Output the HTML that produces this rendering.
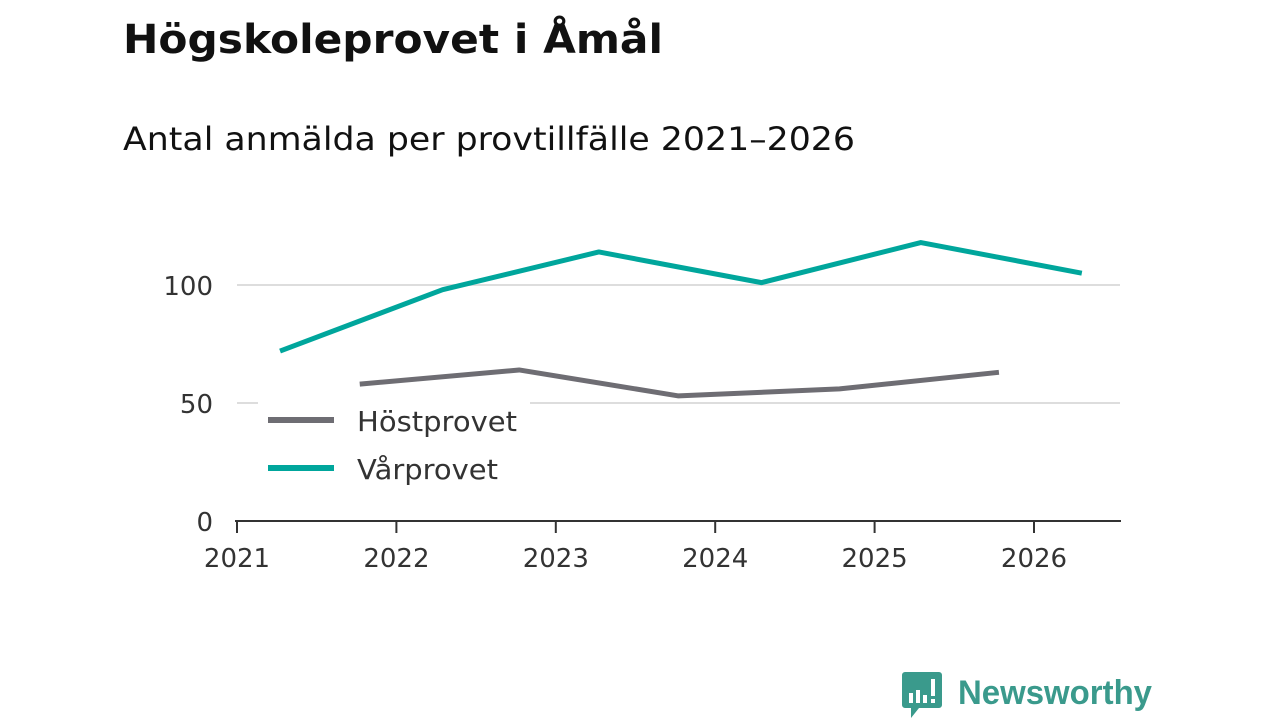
<!DOCTYPE html>
<html><head><meta charset="utf-8"><style>
body{margin:0;width:1280px;height:720px;background:#fff;overflow:hidden;font-family:"DejaVu Sans","Liberation Sans",sans-serif;}
</style></head><body>
<svg width="1280" height="720" id="svg" font-family="DejaVu Sans, Liberation Sans, sans-serif">
<text x="123" y="53" font-size="40" font-weight="bold" fill="#111" textLength="540" lengthAdjust="spacingAndGlyphs">Högskoleprovet i Åmål</text>
<text x="123" y="150" font-size="32" fill="#111" textLength="732" lengthAdjust="spacingAndGlyphs">Antal anmälda per provtillfälle 2021–2026</text>
<g id="grid"></g><g id="axes"></g><g id="lines"></g>
<g>
<rect x="258" y="395" width="272" height="100" fill="#fff"/>
<line x1="268" y1="420" x2="334" y2="420" stroke="#6e6d73" stroke-width="6"/>
<text x="357" y="431" font-size="28" fill="#333" textLength="160" lengthAdjust="spacingAndGlyphs">Höstprovet</text>
<line x1="268" y1="468" x2="334" y2="468" stroke="#00a69c" stroke-width="6"/>
<text x="357" y="479" font-size="28" fill="#333" textLength="141" lengthAdjust="spacingAndGlyphs">Vårprovet</text>
</g>
<g>
<path d="M905 672 h34 a3 3 0 0 1 3 3 v30 a3 3 0 0 1 -3 3 h-20 l-8 10 v-10 h-6 a3 3 0 0 1 -3 -3 v-30 a3 3 0 0 1 3 -3z" fill="#3a9a8c"/>
<rect x="909" y="693" width="4" height="10" fill="#fff"/><rect x="916" y="690" width="4" height="13" fill="#fff"/><rect x="923" y="695" width="4" height="8" fill="#fff"/><rect x="931" y="679" width="4" height="17" fill="#fff"/><rect x="931" y="699" width="4" height="4" fill="#fff"/>
<text x="958" y="704" font-size="34" font-weight="bold" fill="#3a9a8c" font-family="Liberation Sans, sans-serif" textLength="194" lengthAdjust="spacingAndGlyphs">Newsworthy</text>
</g>
</svg>
<script>
const years=[2021,2022,2023,2024,2025,2026];
const yTicks=[0,50,100];
const varDates=[2021.27,2022.29,2023.27,2024.29,2025.29,2026.3];
const varValues=[72,98,114,101,118,105];
const hostDates=[2021.77,2022.77,2023.77,2024.78,2025.78];
const hostValues=[58,64,53,56,63];
const ns="http://www.w3.org/2000/svg";
const xs=y=>237+(y-2021)*159.4;
const ys=v=>521-v*2.36;
function mk(tag,at,parent){const e=document.createElementNS(ns,tag);for(const k in at)e.setAttribute(k,at[k]);document.getElementById(parent).appendChild(e);return e;}
yTicks.forEach(t=>{
 if(t>0){const l=mk('line',{x1:237,x2:1120,y1:ys(t),y2:ys(t),stroke:'#ddd','stroke-width':2},'grid');
 
 }
 const tx=mk('text',{x:213,y:ys(t)+10,'font-size':26,fill:'#333','text-anchor':'end'},'axes');tx.textContent=t;
 
 
});
const ax=mk('line',{x1:235,x2:1121,y1:521,y2:521,stroke:'#333','stroke-width':2},'axes');


years.forEach(y=>{
 const tk=mk('line',{x1:xs(y),x2:xs(y),y1:521,y2:533,stroke:'#333','stroke-width':2},'axes');
 
 
 const tx=mk('text',{x:xs(y),y:567,'font-size':26,fill:'#333','text-anchor':'middle'},'axes');tx.textContent=y;
 
 
});
function line(d,v,c,name){
 const p=mk('polyline',{points:d.map((x,i)=>xs(x)+','+ys(v[i])).join(' '),fill:'none',stroke:c,'stroke-width':5,'stroke-linejoin':'round'},'lines');
 
 
}
line(hostDates,hostValues,'#6e6d73','series-hostprovet');
line(varDates,varValues,'#00a69c','series-varprovet');
</script>
</body></html>
